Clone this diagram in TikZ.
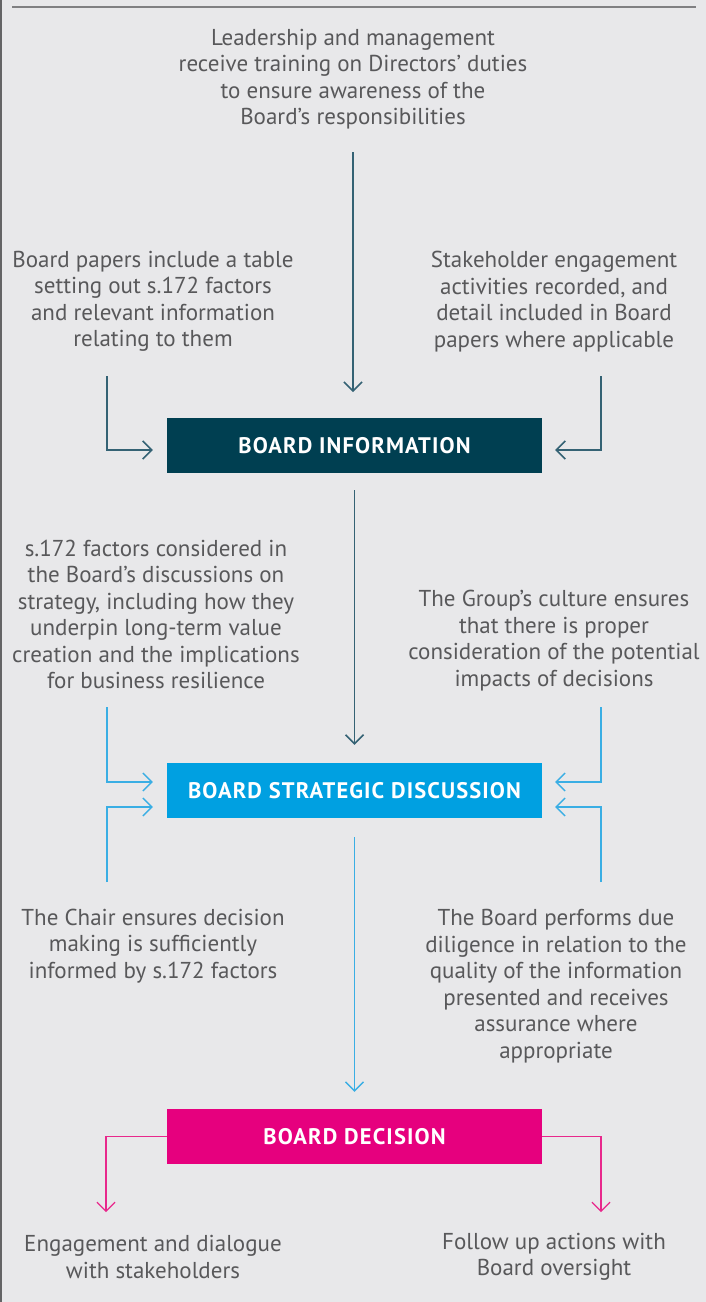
\documentclass[tikz,border=0pt]{standalone}
\usepackage{fontspec}
\setmainfont{PT Sans}
\newfontfamily\boxfont[LetterSpace=5]{PT Sans}
\usetikzlibrary{arrows.meta,calc}
\definecolor{bg}{RGB}{232,232,234}
\definecolor{txt}{RGB}{88,88,90}
\definecolor{rule}{RGB}{128,128,130}
\definecolor{frame}{RGB}{100,100,102}
\definecolor{tealbox}{RGB}{0,63,81}
\definecolor{tealline}{RGB}{52,98,116}
\definecolor{bluebox}{RGB}{0,160,225}
\definecolor{blueline}{RGB}{58,174,228}
\definecolor{magbox}{RGB}{230,0,126}
\definecolor{magline}{RGB}{232,40,140}
\begin{document}
\begin{tikzpicture}[x=1pt,y=-1pt,
  body/.style={text=txt, align=center, inner sep=0pt, font=\fontsize{23}{26.5}\selectfont},
  boxnode/.style={minimum width=375pt, minimum height=55pt, inner sep=0pt, text=white,
    font=\boxfont\bfseries\fontsize{22.5}{26}\selectfont},
  tip/.style={-{Straight Barb[length=9pt,width=18pt]}},
  tealarr/.style={tip, draw=tealline, line width=1.5pt},
  bluearr/.style={tip, draw=blueline, line width=1.3pt},
  magarr/.style={tip, draw=magline, line width=1.2pt},
]
\useasboundingbox (0,0) rectangle (706,1302);
\fill[bg] (0,0) rectangle (706,1302);
\draw[frame, line width=1.5pt] (0.75,0) -- (0.75,1302);
\draw[rule, line width=2pt] (12,7) -- (696,7);

% boxes
\node[boxnode, fill=tealbox] (b1) at (354.5,445.5) {BOARD INFORMATION};
\node[boxnode, fill=bluebox] (b2) at (354.5,790.5) {BOARD STRATEGIC DISCUSSION};
\node[boxnode, fill=magbox] (b3) at (354.5,1136.5) {BOARD DECISION};

% texts
\node[body] (t0) at (353,79) {Leadership and management\\receive training on Directors’ duties\\to ensure awareness of the\\Board’s responsibilities};
\node[body] (tl1) at (153,301.5) {Board papers include a table\\setting out s.172 factors\\and relevant information\\relating to them};
\node[body] (tr1) at (554,301.5) {Stakeholder engagement\\activities recorded, and\\detail included in Board\\papers where applicable};
\node[body] (tl2) at (156,614.5) {s.172 factors considered in\\the Board’s discussions on\\strategy, including how they\\underpin long-term value\\creation and the implications\\for business resilience};
\node[body] (tr2) at (554,640.5) {The Group’s culture ensures\\that there is proper\\consideration of the potential\\impacts of decisions};
\node[body] (tl3) at (153,946) {The Chair ensures decision\\making is sufficiently\\informed by s.172 factors};
\node[body] (tr3) at (556,986) {The Board performs due\\diligence in relation to the\\quality of the information\\presented and receives\\assurance where\\appropriate};
\node[body] (tl4) at (153,1257) {Engagement and dialogue\\with stakeholders};
\node[body] (tr4) at (554,1257) {Follow up actions with\\Board oversight};

% free ends
\coordinate (s0) at (353,152);
\coordinate (sl1) at (107,376);
\coordinate (sr1) at (601,376);
\coordinate (sl2) at (107,707);
\coordinate (sl3) at (107,882);
\coordinate (sr2) at (601,707);
\coordinate (sr3) at (601,882);
\coordinate (el) at (106,1212);
\coordinate (er) at (601,1212);

% connectors
\draw[tealarr] (s0) -- (353,392);
\draw[tealarr] (sl1) |- ($(b1.west)+(-14,4.5)$);
\draw[tealarr] (sr1) |- ($(b1.east)+(13,4.5)$);
\draw[tealarr, shorten <=17pt, shorten >=18pt] (b1.south) -- (b2.north);
\draw[bluearr] (sl2) |- ($(b2.west)+(-14,-8.5)$);
\draw[bluearr] (sl3) |- ($(b2.west)+(-14,16.5)$);
\draw[bluearr] (sr2) |- ($(b2.east)+(13,-8.5)$);
\draw[bluearr] (sr3) |- ($(b2.east)+(13,16.5)$);
\draw[bluearr, shorten <=19pt, shorten >=17pt] (b2.south) -- (b3.north);
\draw[magarr] (b3.west) -| (el);
\draw[magarr] (b3.east) -| (er);
\end{tikzpicture}
\end{document}
